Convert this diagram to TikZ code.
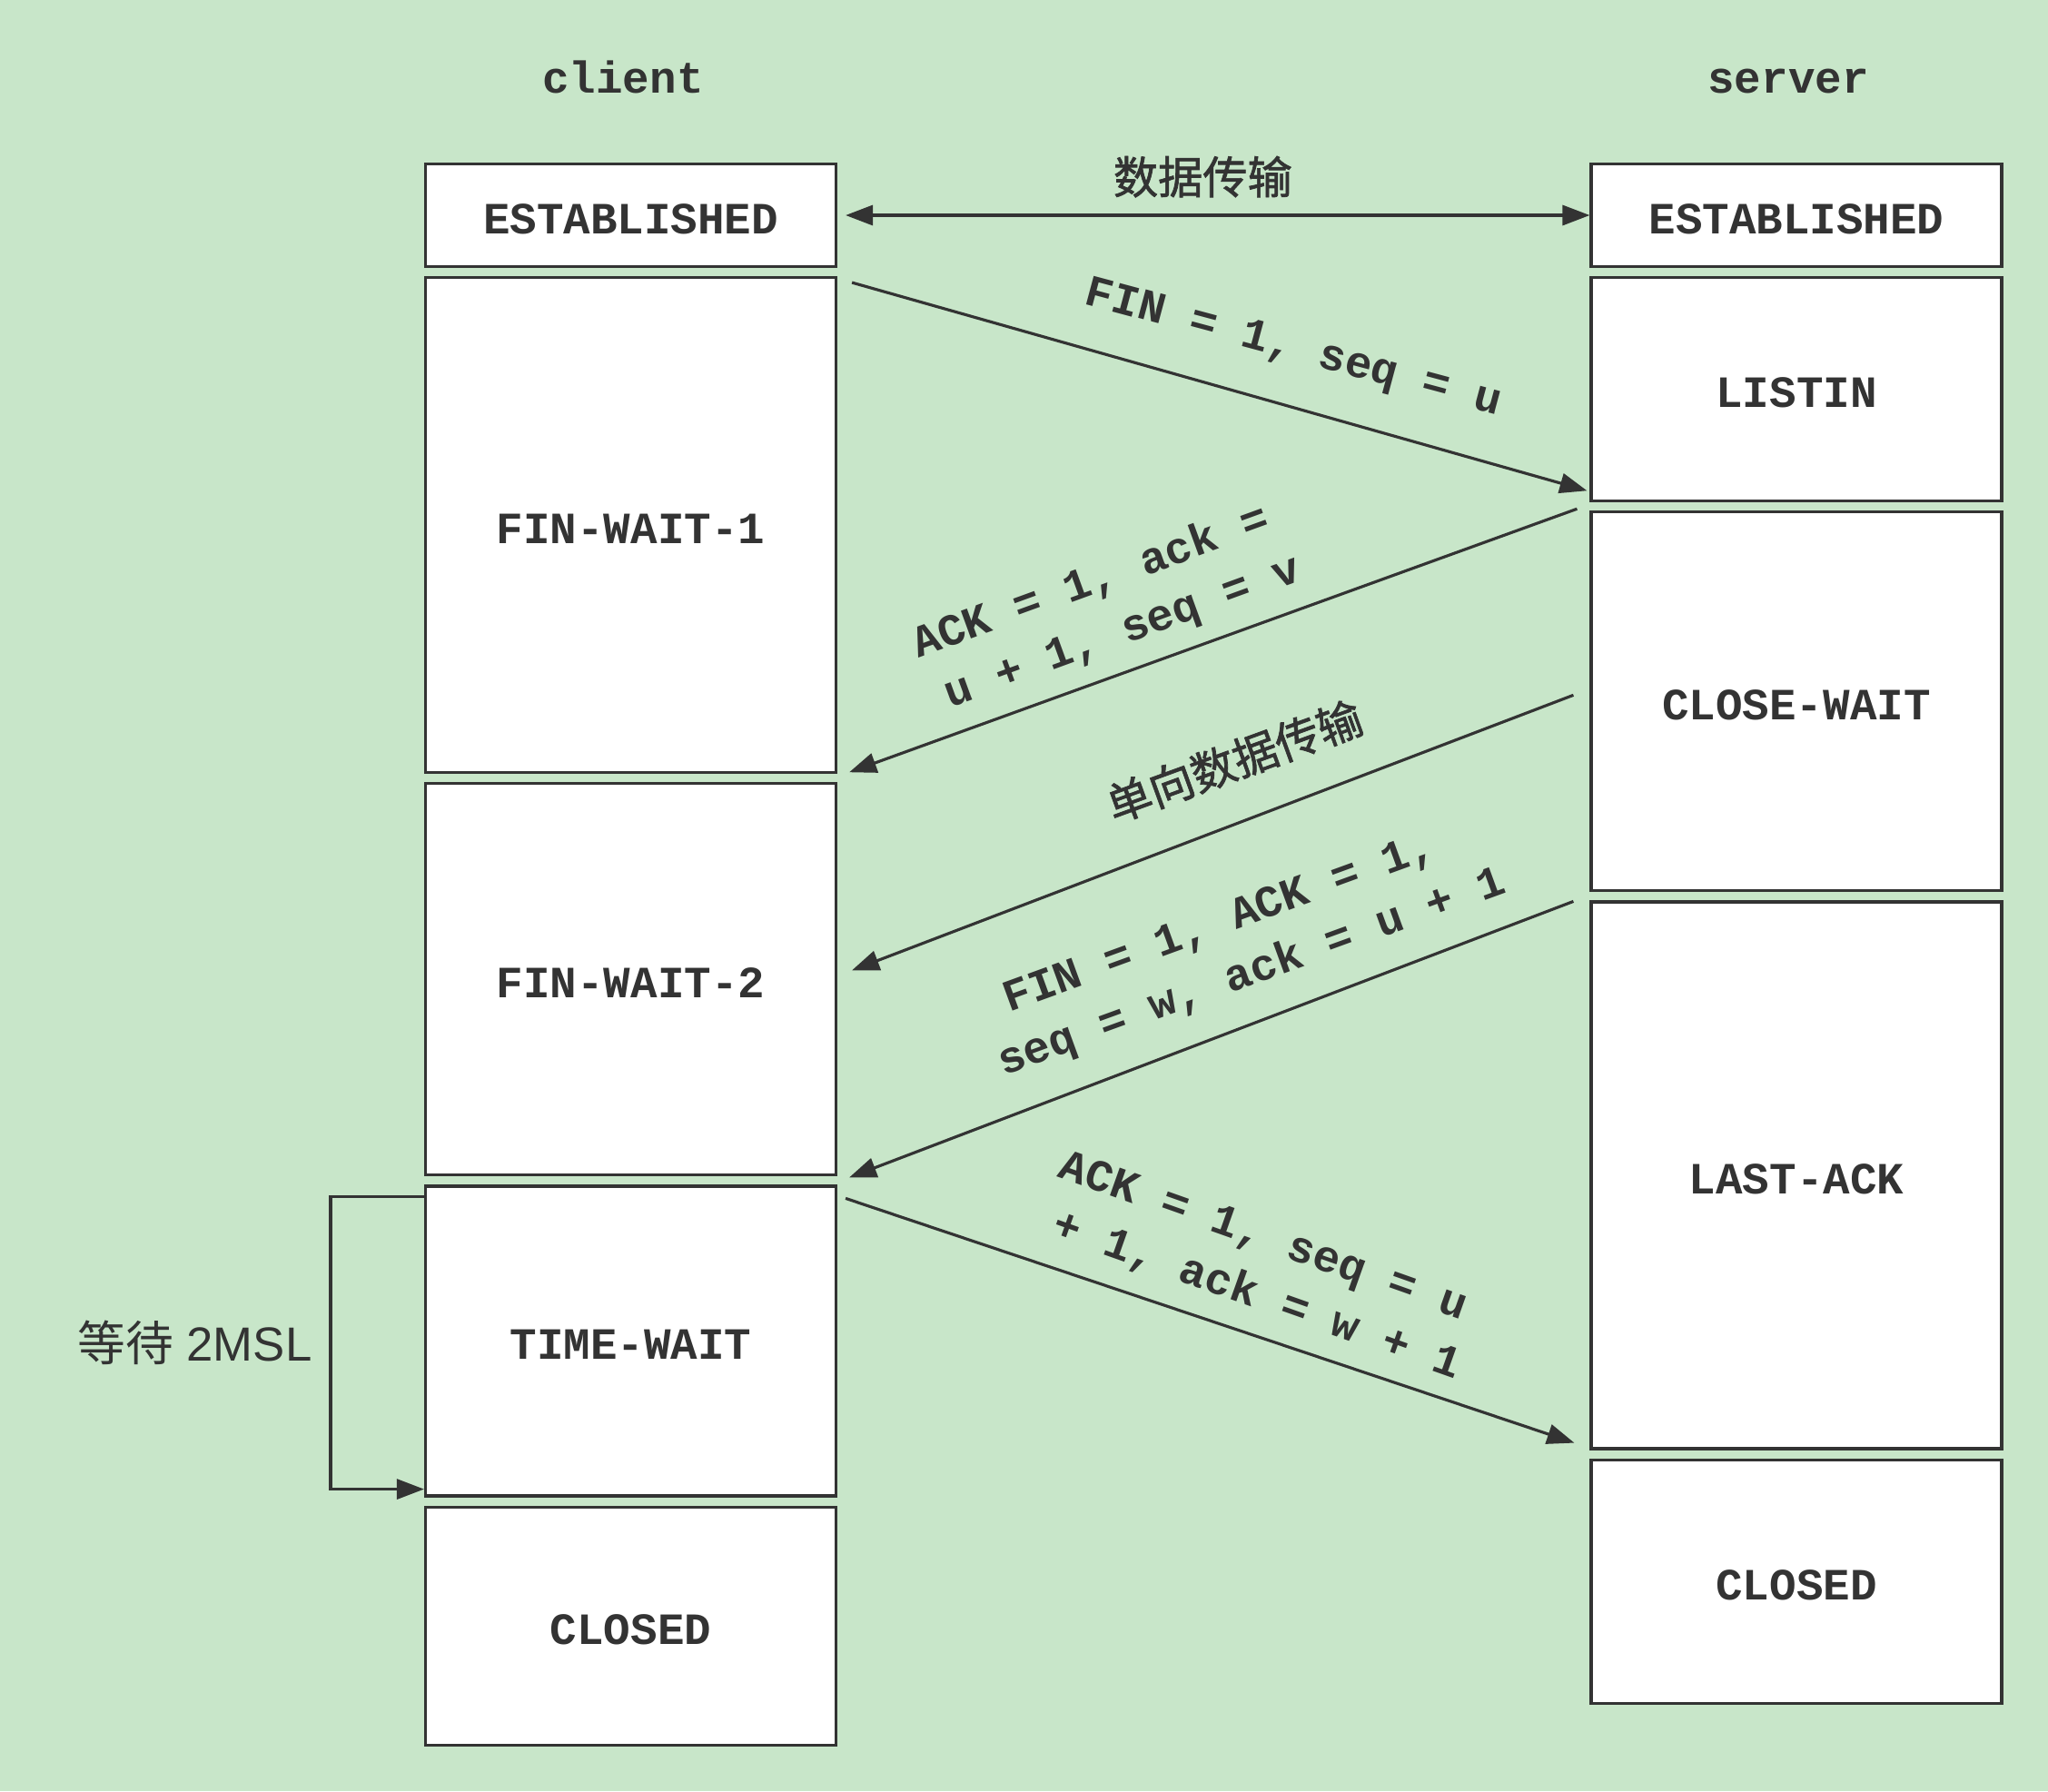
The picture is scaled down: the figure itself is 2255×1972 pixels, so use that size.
\documentclass[tikz,border=0pt]{standalone}
\usepackage{fontspec}
\setmainfont{Liberation Sans}
\setmonofont{Liberation Mono}
\newfontfamily\cjk{Noto Sans CJK SC}[BoldFont={Noto Sans CJK SC}, BoldFeatures={FakeBold=1.4}]
\usetikzlibrary{arrows.meta,positioning}
\definecolor{bgc}{RGB}{200,230,201}
\definecolor{ink}{RGB}{51,51,51}

\begin{document}
\begin{tikzpicture}[x=0.1mm, y=-0.1mm, >={Triangle[length=3mm, width=2.2mm]}, node distance=0.9mm, text=ink,
st/.style={draw=ink, line width=0.9pt, fill=white, minimum width=45.2mm, text height=11.5pt, text depth=0pt, font=\fontsize{14}{18}\selectfont\ttfamily\bfseries},
msg/.style={align=center, inner sep=0pt, font=\fontsize{14}{18}\selectfont\ttfamily\bfseries},
zh/.style={inner sep=0pt, font=\fontsize{14}{18}\selectfont\cjk\bfseries},
flow/.style={draw=ink, line width=0.9pt}]
\fill[bgc] (0,0) rectangle (2255,1972);
\node[st, minimum height=11.3mm] (c0) at (694.5,237) {ESTABLISHED};
\node[st, minimum height=54.5mm, below=of c0] (c1) {FIN-WAIT-1};
\node[st, minimum height=43.1mm, below=of c1] (c2) {FIN-WAIT-2};
\node[st, minimum height=34.1mm, below=of c2] (c3) {TIME-WAIT};
\node[st, minimum height=26.2mm, below=of c3] (c4) {CLOSED};
\node[st, minimum height=11.3mm] (s0) at (1978,237) {ESTABLISHED};
\node[st, minimum height=24.6mm, below=of s0] (s1) {LISTIN};
\node[st, minimum height=41.7mm, below=of s1] (s2) {CLOSE-WAIT};
\node[st, minimum height=60.2mm, below=of s2] (s3) {LAST-ACK};
\node[st, minimum height=26.8mm, below=of s3] (s4) {CLOSED};
\node[msg, above=7.5mm of c0, xshift=-0.85mm] (client) {client};
\node[msg, above=7.5mm of s0, xshift=-0.9mm] (server) {server};
\draw[flow, <->] ([xshift=0.9mm]c0.east) -- node[zh, pos=0.48, above=1.8mm] (t0) {数据传输} (s0.west);
\draw[flow, ->] ([xshift=1.6mm, yshift=-0.7mm]c1.north east) -- ([xshift=-0.3mm, yshift=1.3mm]s1.south west);
\draw[flow, ->] ([xshift=-1.4mm, yshift=0.2mm]s2.north west) -- ([xshift=1.3mm, yshift=0.2mm]c1.south east);
\draw[flow, ->] ([xshift=-1.8mm, yshift=0.7mm]s2.west) -- ([xshift=1.6mm, yshift=1mm]c2.east);
\draw[flow, ->] ([xshift=-1.8mm, yshift=-0.1mm]s3.north west) -- ([xshift=1.3mm, yshift=-0.1mm]c2.south east);
\draw[flow, ->] ([xshift=0.9mm, yshift=-1.5mm]c3.north east) -- ([xshift=-1.7mm, yshift=0.8mm]s3.south west);
\draw[flow, ->] ([yshift=-1.3mm]c3.north west) -- ++(-10.3mm,0pt) |- node[pos=0.25, left=1.9mm, inner sep=0pt, font=\fontsize{15}{18}\selectfont] (t5) {{\cjk 等待} 2MSL} ([yshift=0.9mm]c3.south west);
\node[msg, rotate=-15] (t1) at (1424,385) {FIN = 1, seq = u};
\node[msg, rotate=20] (t2) at (1226,667) {ACK = 1, ack =\hphantom{x}\\u + 1, seq = v};
\node[zh, rotate=20] (t3) at (1359,838) {单向数据传输};
\node[msg, rotate=20] (t4) at (1368,1043) {FIN = 1, ACK = 1,\hphantom{x}\\seq = w, ack = u + 1};
\node[msg, rotate=-19.5] (t6) at (1394,1398) {ACK = 1, seq = u\hphantom{x}\\+ 1, ack = w + 1};
\end{tikzpicture}
\end{document}
